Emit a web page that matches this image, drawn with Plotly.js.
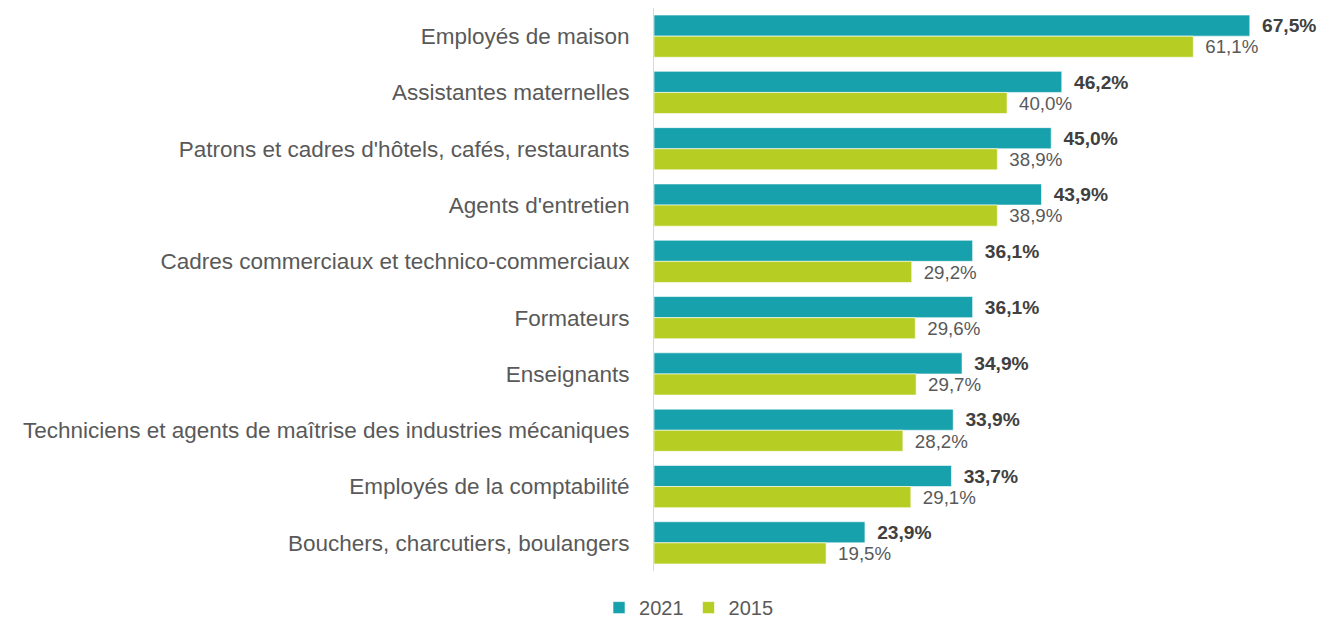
<!DOCTYPE html>
<html><head><meta charset="utf-8">
<script src="https://cdn.plot.ly/plotly-3.0.1.min.js"></script>
<style>html,body{margin:0;padding:0;background:#fff}#chart{width:1319px;height:620px}</style>
</head><body><div id="chart"></div>
<script>
const categories = [
  "Employés de maison",
  "Assistantes maternelles",
  "Patrons et cadres d'hôtels, cafés, restaurants",
  "Agents d'entretien",
  "Cadres commerciaux et technico-commerciaux",
  "Formateurs",
  "Enseignants",
  "Techniciens et agents de maîtrise des industries mécaniques",
  "Employés de la comptabilité",
  "Bouchers, charcutiers, boulangers"
];
const values2021 = [67.5, 46.2, 45.0, 43.9, 36.1, 36.1, 34.9, 33.9, 33.7, 23.9];
const values2015 = [61.1, 40.0, 38.9, 38.9, 29.2, 29.6, 29.7, 28.2, 29.1, 19.5];
const seriesNames = ["2021", "2015"];

const fmt = v => "\u00a0\u2009" + v.toFixed(1).replace(".", ",") + "%";
const FONT = "Liberation Sans, Arial, sans-serif";

const traces = [
  {
    type: "bar", orientation: "h", name: seriesNames[0],
    y: categories, x: values2021,
    marker: {color: "#17A1AC", line: {color: "#ffffff", width: 0.6}},
    text: values2021.map(fmt), textposition: "outside", cliponaxis: false,
    textfont: {family: FONT, size: 20, color: "#404040", weight: "bold"},
    hoverinfo: "x+y"
  },
  {
    type: "bar", orientation: "h", name: seriesNames[1],
    y: categories, x: values2015,
    marker: {color: "#B6CE24", line: {color: "#ffffff", width: 0.6}},
    text: values2015.map(fmt), textposition: "outside", cliponaxis: false,
    textfont: {family: FONT, size: 19.5, color: "#595959"},
    hoverinfo: "x+y"
  }
];

const layout = {
  width: 1319, height: 620,
  margin: {l: 654, r: 3, t: 8, b: 49},
  barmode: "group", bargap: 0.25, bargroupgap: 0,
  paper_bgcolor: "#fff", plot_bgcolor: "#fff",
  font: {family: FONT, color: "#595959"},
  xaxis: {range: [0, 75], showgrid: false, zeroline: false, showticklabels: false, ticks: "", showline: false, fixedrange: true},
  yaxis: {autorange: "reversed", showgrid: false, zeroline: false, showline: true, linecolor: "#d9d9d9", linewidth: 1,
          ticks: "", ticklabelstandoff: 19, tickfont: {family: FONT, size: 22.5, color: "#595959"}},
  showlegend: true,
  legend: {orientation: "h", xref: "container", yref: "container", x: 0.522, xanchor: "center", y: 0.02, yanchor: "middle",
           font: {family: FONT, size: 20, color: "#595959"}, itemwidth: 30, traceorder: "normal"},
  uniformtext: {mode: false}
};

Plotly.newPlot("chart", traces, layout, {displayModeBar: false, staticPlot: true});
</script></body></html>
